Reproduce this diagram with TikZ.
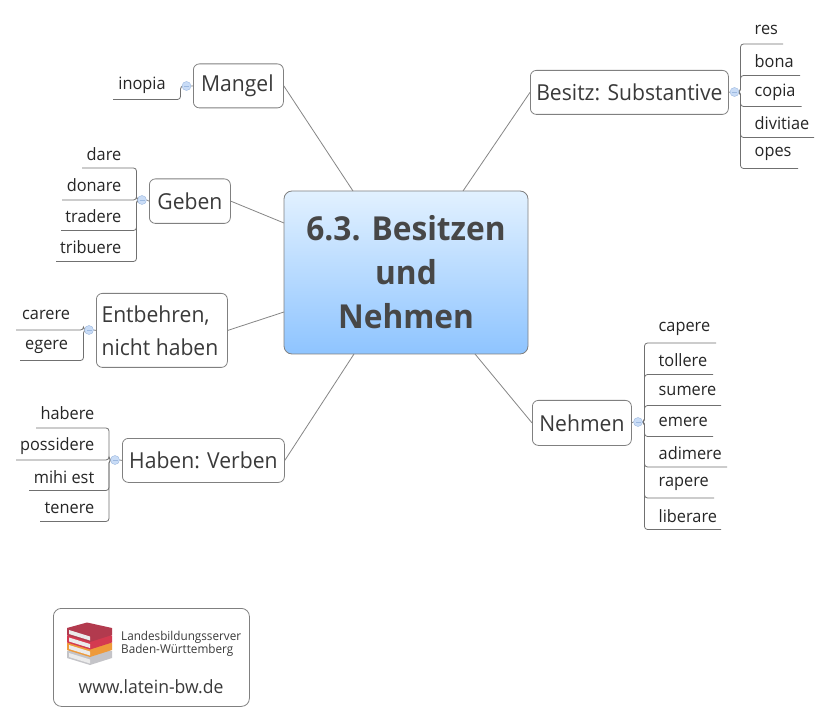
\documentclass[tikz,border=0pt]{standalone}
\usepackage{fontspec}
\setmainfont[FakeStretch=0.96]{Open Sans}
\usetikzlibrary{calc}
\definecolor{linegray}{HTML}{868686}
\definecolor{boxgray}{HTML}{808080}
\definecolor{leafline}{HTML}{707070}
\definecolor{titletext}{HTML}{474747}
\definecolor{topictext}{HTML}{3A3A3A}
\definecolor{hubfill}{HTML}{C9DCF6}
\definecolor{hubline}{HTML}{9DB9E0}
\definecolor{CenterTop}{HTML}{E2F1FF}
\definecolor{CenterBot}{HTML}{8EC4FF}
\definecolor{BookGrey}{HTML}{C4C4C8}
\definecolor{BookOrange}{HTML}{EE9A3A}
\definecolor{BookRed}{HTML}{D43A50}
\definecolor{BookDark}{HTML}{B23A4E}
\tikzset{
  x=1pt,y=-1pt,
  topicbox/.style={draw=boxgray,line width=0.8pt,rounded corners=6pt,fill=white,inner sep=0pt,text=topictext,font=\fontsize{22}{33}\selectfont,align=left},
  centerbox/.style={draw=boxgray,line width=0.8pt,rounded corners=8pt,top color=CenterTop,bottom color=CenterBot,inner sep=0pt,minimum width=244pt,minimum height=163pt,text=titletext,font=\fontsize{33}{44}\bfseries\selectfont,align=center},
  hubnode/.style={circle,draw=hubline,line width=0.4pt,fill=hubfill,minimum size=9pt,inner sep=0pt},
  leaftext/.style={inner sep=0pt,text=black!85,font=\fontsize{17}{18}\selectfont},
  mainline/.style={draw=linegray,line width=0.8pt},
  leafwire/.style={draw=leafline,line width=0.8pt,rounded corners=3pt},
}
\newcommand{\tbox}[6]{\node[topicbox,minimum width=#4pt,minimum height=#5pt,anchor=north west] (#1) at (#2,#3) {#6};}
\begin{document}
\begin{tikzpicture}
\useasboundingbox (0,0) rectangle (831,722);
\fill[white] (0,0) rectangle (831,722);
\coordinate (cMangel) at (353,191);
\coordinate (cGeben) at (284,223);
\coordinate (cEnt) at (284,312);
\coordinate (cHaben) at (354,354);
\coordinate (cBesitz) at (463,191);
\coordinate (cNehmen) at (475,354);
\coordinate (a1) at (113,99.5); \coordinate (a2) at (82,168); \coordinate (a3) at (62,200);
\coordinate (a4) at (61,230.5); \coordinate (a5) at (56,261.5);
\coordinate (a6) at (16,330); \coordinate (a7) at (20,360.5);
\coordinate (a8) at (36,428); \coordinate (a9) at (16,460); \coordinate (a10) at (29,490.5); \coordinate (a11) at (40,521.5);
\coordinate (b1) at (783,44); \coordinate (b2) at (800,75.5); \coordinate (b3) at (801.5,106.5); \coordinate (b4) at (814,137.5); \coordinate (b5) at (798,168.5);
\coordinate (d1) at (716,343); \coordinate (d2) at (713,374.5); \coordinate (d3) at (721,405.5); \coordinate (d4) at (713,436.5); \coordinate (d5) at (727,467); \coordinate (d6) at (714,498); \coordinate (d7) at (721,529.5);

\node[centerbox] (center) at (406,272.5) {6.3. Besitzen\\und\\Nehmen};
\tbox{mangel}{193}{63.5}{90}{44}{Mangel\hspace*{2pt}}
\tbox{geben}{149}{178.5}{81}{44.5}{Geben}
\tbox{entb}{96}{293}{131}{74}{Entbehren,\\nicht haben\hspace*{4pt}}
\tbox{haben}{122}{438}{162}{44}{Haben: Verben}
\tbox{besitz}{530}{70}{198}{44}{Besitz: Substantive}
\tbox{nehmen}{532}{400}{99}{45}{Nehmen}
\draw[mainline] (mangel.east) -- (cMangel);
\draw[mainline] (geben.east) -- (cGeben);
\draw[mainline] (entb.east) -- (cEnt);
\draw[mainline] (haben.east) -- (cHaben);
\draw[mainline] (besitz.west) -- (cBesitz);
\draw[mainline] (nehmen.west) -- (cNehmen);

\coordinate (hm) at (186.5,86); \coordinate (hg) at (142,200); \coordinate (he) at (89,330);
\coordinate (hh) at (115,460); \coordinate (hb) at (734.5,92); \coordinate (hn) at (638,422);

\draw[leafwire] (hm) -- (180.5,86) -- (180.5,99.5) -- (a1);
\foreach \p/\y in {a2/168,a3/200,a4/230.5,a5/261.5}
  \draw[leafwire] (hg) -- (136.5,200) -- (136.5,\y) -- (\p);
\foreach \p/\y in {a6/330,a7/360.5}
  \draw[leafwire] (he) -- (83.5,330) -- (83.5,\y) -- (\p);
\foreach \p/\y in {a8/428,a9/460,a10/490.5,a11/521.5}
  \draw[leafwire] (hh) -- (109,460) -- (109,\y) -- (\p);
\foreach \p/\y in {b1/44,b2/75.5,b3/106.5,b4/137.5,b5/168.5}
  \draw[leafwire] (hb) -- (740.5,92) -- (740.5,\y) -- (\p);
\foreach \p/\y in {d1/343,d2/374.5,d3/405.5,d4/436.5,d5/467,d6/498,d7/529.5}
  \draw[leafwire] (hn) -- (644.5,422) -- (644.5,\y) -- (\p);

\node[hubnode] (nhm) at (hm) {}; \node[hubnode] (nhg) at (hg) {}; \node[hubnode] (nhe) at (he) {};
\node[hubnode] (nhh) at (hh) {}; \node[hubnode] (nhb) at (hb) {}; \node[hubnode] (nhn) at (hn) {};
\foreach \n in {nhm,nhg,nhe,nhh,nhb,nhn}
  \draw[hubline,line width=0.6pt] ($(\n.center)+(-2.5,0)$) -- ($(\n.center)+(2.5,0)$);
\draw[linegray,line width=0.8pt] (nhm.east) -- (mangel.west);
\draw[linegray,line width=0.8pt] (nhg.east) -- (geben.west);
\draw[linegray,line width=0.8pt] (nhe.east) -- (entb.west);
\draw[linegray,line width=0.8pt] (nhh.east) -- (haben.west);
\draw[linegray,line width=0.8pt] (nhb.west) -- (besitz.east);
\draw[linegray,line width=0.8pt] (nhn.west) -- (nehmen.east);

\node[leaftext,anchor=base] (l1) at (142,90) {inopia};
\foreach \t/\y in {dare/160.5,donare/191.5,tradere/222.5,tribuere/253.5}
  \node[leaftext,anchor=base east] at (121.5,\y) {\t};
\node[leaftext,anchor=base west] at (22,319.5) {carere};
\node[leaftext,anchor=base west] at (25,350) {egere};
\foreach \t/\y in {habere/420,possidere/450,mihi est/483,tenere/513}
  \node[leaftext,anchor=base east] at (94.5,\y) {\t};
\foreach \t/\y in {res/35,bona/67.5,copia/96.5,divitiae/129.5,opes/156.5}
  \node[leaftext,anchor=base west] at (754.5,\y) {\t};
\foreach \t/\y in {capere/331.5,tollere/366.5,sumere/395.5,emere/427,adimere/459.5,rapere/486.5,liberare/522}
  \node[leaftext,anchor=base west] at (658.5,\y) {\t};

\node[draw=boxgray,line width=0.8pt,rounded corners=8pt,minimum width=196pt,minimum height=98pt,inner sep=0pt,anchor=north west] (logo) at (53,608) {};
\foreach \c/\d in {BookGrey/23,BookOrange/15,BookRed/7.5,BookDark/0}{
  \fill[\c] (67,{628+\d}) -- (87,{622.5+\d}) -- (112,{628+\d}) -- (112,{635+\d}) -- (90,{642+\d}) -- (67,{635+\d}) -- cycle;
  \fill[white!92!black] (69,{630+\d}) -- (90,{636.5+\d}) -- (90,{640.5+\d}) -- (69,{634+\d}) -- cycle;
}
\node[inner sep=0pt,anchor=base west,text=topictext,font=\fontsize{12.2}{14}\selectfont] (srv1) at (121,640) {Landesbildungsserver};
\node[inner sep=0pt,anchor=base west,text=topictext,font=\fontsize{12.2}{14}\selectfont] (srv2) at (121,653) {Baden-Württemberg};
\node[inner sep=0pt,anchor=base,text=topictext,font=\fontsize{18.3}{18}\selectfont] (url) at (151,693) {www.latein-bw.de};
\end{tikzpicture}
\end{document}
